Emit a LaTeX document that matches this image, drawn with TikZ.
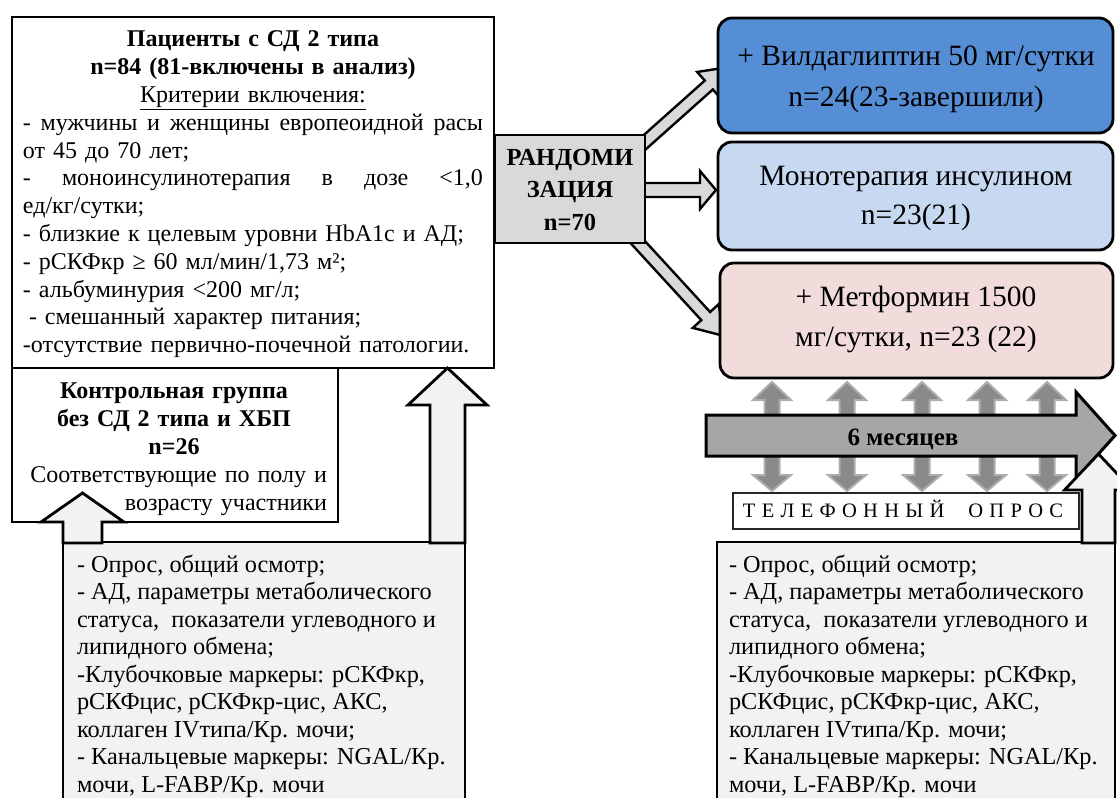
\documentclass[tikz,border=0pt]{standalone}
\usepackage{fontspec}
\setmainfont{Liberation Serif}
\usetikzlibrary{calc}
\definecolor{vild}{HTML}{558ED5}
\definecolor{mono}{HTML}{C6D9F1}
\definecolor{metf}{HTML}{F2DCDB}
\definecolor{randc}{HTML}{D9D9D9}
\definecolor{lightbox}{HTML}{F2F2F2}
\definecolor{bigarr}{HTML}{A6A6A6}
\definecolor{dblfill}{HTML}{8A8A8A}
\definecolor{dbledge}{HTML}{ADADAD}
\newcommand\blockarrow[6]{%
  \path let \p1=(#2), \p2=(#3) in
    \pgfextra{%
      \pgfmathsetmacro\tmpang{atan2(\y2-\y1,\x2-\x1)}%
      \pgfmathsetmacro\tmplen{veclen(\x2-\x1,\y2-\y1)}%
      \global\let\baang\tmpang
      \global\let\balen\tmplen
      \xdef\bax{\x1}\xdef\bay{\y1}%
    };
  \draw[#1, shift={(\bax,\bay)}, rotate=\baang]
    (0pt,-#4pt) -- ({\balen pt-#6pt},-#4pt) -- ({\balen pt-#6pt},-#5pt)
    -- (\balen pt,0pt) -- ({\balen pt-#6pt},#5pt) -- ({\balen pt-#6pt},#4pt)
    -- (0pt,#4pt) -- cycle;
}
\newcommand\ls{\kern6.3pt}
\begin{document}
\begin{tikzpicture}[x=1pt,y=-1pt,
  box/.style={draw=black, line width=2.8pt, inner sep=0pt, outer sep=0pt, anchor=north west},
  grp/.style={box, rounded corners=14pt},
  txt/.style={inner sep=0pt, outer sep=0pt, anchor=north west, align=left},
  ctxt/.style={inner sep=0pt, outer sep=0pt, anchor=north, align=center},
  randarrow/.style={draw=black, fill=randc, line width=2.4pt, line join=miter},
  uparrow/.style={draw=black, fill=lightbox, line width=2.8pt, line join=miter},
  dblarrow/.style={draw=dbledge, fill=dblfill, line width=2pt, line join=miter},
  bodyfont/.style={font=\fontsize{24.3}{27.5}\selectfont},
]
\useasboundingbox (0,0) rectangle (1117,798);

% coordinates for the randomisation connectors
\coordinate (r1s) at (636,150);
\coordinate (r1e) at (729,67);
\coordinate (r2s) at (640,190);
\coordinate (r2e) at (716,190);
\coordinate (r3s) at (634,238);
\coordinate (r3e) at (724,336);
\blockarrow{randarrow}{r1s}{r1e}{6}{17.5}{27}
\blockarrow{randarrow}{r2s}{r2e}{7}{19}{16}
\blockarrow{randarrow}{r3s}{r3e}{6}{17.5}{27}

% main boxes
\node[box, fill=white, minimum width=482pt, minimum height=351pt] (pat) at (12,17) {};
\node[box, fill=white, minimum width=326pt, minimum height=154pt] (ctrl) at (12,368) {};
\node[box, fill=randc, minimum width=150pt, minimum height=108pt] (rand) at (495,135) {};
\node[grp, fill=vild, minimum width=395pt, minimum height=115pt] (vild) at (718,18) {};
\node[grp, fill=mono, minimum width=395pt, minimum height=108pt] (mono) at (718,142) {};
\node[grp, fill=metf, minimum width=393pt, minimum height=115pt] (metf) at (720,263) {};
\node[box, fill=lightbox, minimum width=402pt, minimum height=280pt] (exL) at (63,542) {};
\node[box, fill=lightbox, minimum width=398pt, minimum height=280pt] (exR) at (717,542) {};

% up arrows from the examination boxes
\coordinate (uas) at (82.5,543);
\coordinate (uae) at (82.5,493);
\coordinate (ubs) at (447.5,543);
\coordinate (ube) at (447.5,368);
\blockarrow{uparrow}{uas}{uae}{19.5}{41.5}{29}
\blockarrow{uparrow}{ubs}{ube}{17.5}{39.5}{37}

% telephone double arrows
\foreach \cx in {772,847,922,987,1047}{
  \draw[dblarrow] (\cx,382) -- ({\cx+19},400) -- ({\cx+7.5},400) -- ({\cx+7.5},475)
    -- ({\cx+19},475) -- (\cx,491) -- ({\cx-19},475) -- ({\cx-7.5},475)
    -- ({\cx-7.5},400) -- ({\cx-19},400) -- cycle;
}
% six month arrow
\draw[draw=black, fill=bigarr, line width=3pt, line join=miter]
  (706,415) -- (1076,415) -- (1076,392) -- (1115,435.5) -- (1076,479) -- (1076,456) -- (706,456) -- cycle;
\node[inner sep=0pt, anchor=base, font=\fontsize{25}{28}\selectfont\bfseries] (months) at (903,445) {6 месяцев};

% right up arrow
\coordinate (ucs) at (1098.5,543);
\coordinate (uce) at (1098.5,454);
\blockarrow{uparrow}{ucs}{uce}{16.5}{34}{36}

% telephone box
\node[box, fill=white, draw=black!85, line width=1.5pt, minimum width=346pt, minimum height=36pt] (tel) at (733,493) {};
\node[inner sep=0pt, anchor=base, font=\fontsize{20.5}{24}\selectfont] (teltxt) at (903,517.5)
  {Т\ls Е\ls Л\ls Е\ls Ф\ls О\ls Н\ls Н\ls Ы\ls Й\hspace{24pt}О\ls П\ls Р\ls О\ls С};

% texts
\node[txt, text width=460pt, font=\fontsize{24}{27.8}\selectfont] (pattxt) at (23,27.5) {%
\strut\makebox[460pt][c]{\bfseries Пациенты с СД 2 типа}\\
\makebox[460pt][c]{\bfseries n=84 (81-включены в анализ)}\\
\makebox[460pt][c]{\underline{Критерии включения:}}\\
\makebox[460pt][l]{-\hfill мужчины\hfill и\hfill женщины\hfill европеоидной\hfill расы}\\
от 45 до 70 лет;\\
\makebox[460pt][l]{-\hfill моноинсулинотерапия\hfill в\hfill дозе\hfill <1,0}\\
ед/кг/сутки;\\
- близкие к целевым уровни HbA1c и АД;\\
- рСКФкр ≥ 60 мл/мин/1,73 м²;\\
- альбуминурия <200 мг/л;\\
\hspace*{6pt}- смешанный характер питания;\\
-отсутствие первично-почечной патологии.};

\node[txt, text width=306pt, font=\fontsize{24}{28}\selectfont] (ctrltxt) at (21,378.4) {%
\strut\makebox[306pt][c]{\bfseries Контрольная группа}\\
\makebox[306pt][c]{\bfseries без СД 2 типа и ХБП}\\
\makebox[306pt][c]{\bfseries n=26}\\
\makebox[306pt][r]{Соответствующие по полу и}\\
\makebox[306pt][r]{возрасту участники}};

\node[ctxt, font=\fontsize{24.5}{32.5}\selectfont\bfseries] (randtxt) at (570,142.3) {%
\strut РАНДОМИ\\ЗАЦИЯ\\n=70};

\node[ctxt, font=\fontsize{29.5}{41}\selectfont] (vildtxt) at (916,36.3) {%
\strut + Вилдаглиптин 50 мг/сутки\\n=24(23-завершили)};
\node[ctxt, font=\fontsize{29.5}{39}\selectfont] (monotxt) at (916,157.7) {%
\strut Монотерапия инсулином\\n=23(21)};
\node[ctxt, font=\fontsize{29.5}{40}\selectfont] (metftxt) at (916,278) {%
\strut + Метформин 1500\\мг/сутки, n=23 (22)};

\node[txt, bodyfont] (exLtxt) at (77,552.75) {%
\strut - Опрос, общий осмотр;\\
- АД, параметры метаболического\\
статуса,\ \ показатели углеводного и\\
липидного обмена;\\
-Клубочковые маркеры: рСКФкр,\\
рСКФцис, рСКФкр-цис, АКС,\\
коллаген IVтипа/Кр. мочи;\\
- Канальцевые маркеры: NGAL/Кр.\\
мочи, L-FABP/Кр. мочи};
\node[txt, bodyfont] (exRtxt) at (729,552.75) {%
\strut - Опрос, общий осмотр;\\
- АД, параметры метаболического\\
статуса,\ \ показатели углеводного и\\
липидного обмена;\\
-Клубочковые маркеры: рСКФкр,\\
рСКФцис, рСКФкр-цис, АКС,\\
коллаген IVтипа/Кр. мочи;\\
- Канальцевые маркеры: NGAL/Кр.\\
мочи, L-FABP/Кр. мочи};
\end{tikzpicture}
\end{document}
